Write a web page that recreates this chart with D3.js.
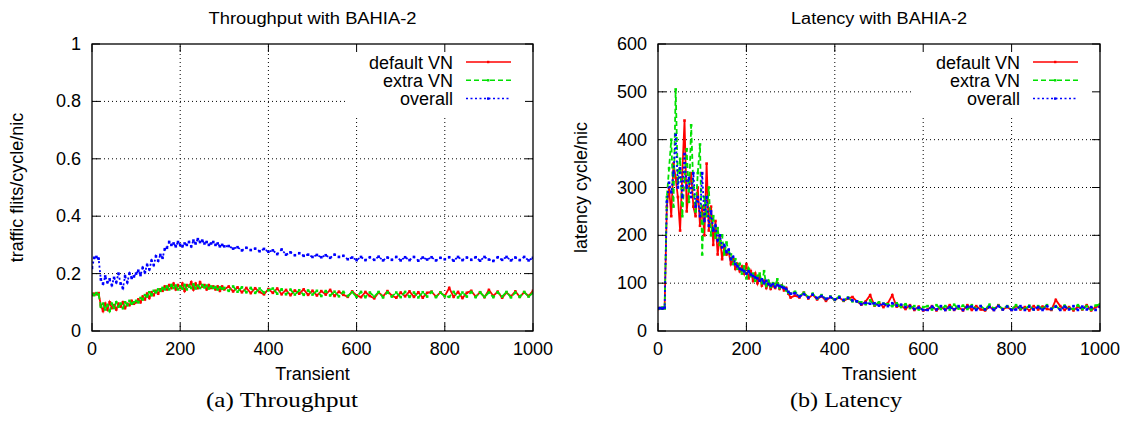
<!DOCTYPE html>
<html>
<head>
<meta charset="utf-8">
<script src="https://cdn.jsdelivr.net/npm/d3@7"></script>
<style>
  body { margin: 0; background: #fff; }
  text { font-family: "Liberation Sans", Arial, sans-serif; }
  text.caption { font-family: "Liberation Serif", "DejaVu Serif", serif; }
</style>
</head>
<body>
<script>
// x values (transient step), dense at the start, every 10 after 300
const transient = [
  0,5,10,15,20,25,30,35,40,45, 50,55,60,65,70,75,80,85,90,95,
  100,105,110,115,120,125,130,135,140,145, 150,155,160,165,170,175,180,185,190,195,
  200,205,210,215,220,225,230,235,240,245, 250,255,260,265,270,275,280,285,290,295,
  300,
  310,320,330,340,350,360,370,380,390,400, 410,420,430,440,450,460,470,480,490,500,
  510,520,530,540,550,560,570,580,590,600, 610,620,630,640,650,660,670,680,690,700,
  710,720,730,740,750,760,770,780,790,800, 810,820,830,840,850,860,870,880,890,900,
  910,920,930,940,950,960,970,980,990,1000
];

const seriesNames = ["default VN", "extra VN", "overall"];
const xTicks = [0, 200, 400, 600, 800, 1000];
const tpTicks = [0, 0.2, 0.4, 0.6, 0.8, 1];
const tpTickLabels = ["0", "0.2", "0.4", "0.6", "0.8", "1"];
const latTicks = [0, 100, 200, 300, 400, 500, 600];

// throughput (flits/cycle/nic)
const tpDefault = [
  0.125,0.13,0.128,0.132,0.09,0.07,0.095,0.075,0.1,0.08,
  0.09,0.075,0.095,0.085,0.1,0.08,0.095,0.09,0.105,0.095,
  0.1,0.11,0.1,0.12,0.11,0.13,0.115,0.135,0.125,0.14,
  0.13,0.145,0.14,0.155,0.145,0.16,0.15,0.165,0.145,0.16,
  0.15,0.165,0.14,0.16,0.155,0.17,0.145,0.165,0.15,0.17,
  0.155,0.16,0.145,0.16,0.15,0.155,0.145,0.155,0.14,0.155,
  0.145,
  0.155,0.138,0.152,0.135,0.15,0.132,0.149,0.136,0.128,0.146,
  0.133,0.148,0.128,0.143,0.125,0.141,0.13,0.145,0.126,0.14,
  0.124,0.139,0.127,0.143,0.122,0.137,0.126,0.119,0.138,0.124,
  0.118,0.136,0.122,0.114,0.134,0.121,0.139,0.123,0.116,0.134,
  0.121,0.138,0.119,0.135,0.116,0.133,0.137,0.12,0.134,0.122,
  0.15,0.119,0.136,0.115,0.133,0.14,0.12,0.135,0.118,0.143,
  0.122,0.137,0.116,0.134,0.121,0.138,0.119,0.135,0.122,0.14
];
const tpExtra = [
  0.13,0.125,0.132,0.127,0.085,0.095,0.075,0.09,0.07,0.095,
  0.08,0.1,0.085,0.095,0.08,0.1,0.09,0.105,0.095,0.1,
  0.105,0.1,0.115,0.11,0.125,0.12,0.135,0.125,0.14,0.135,
  0.145,0.14,0.15,0.145,0.155,0.145,0.16,0.15,0.158,0.145,
  0.155,0.148,0.16,0.145,0.158,0.15,0.162,0.148,0.158,0.15,
  0.16,0.152,0.158,0.148,0.155,0.15,0.153,0.145,0.152,0.147,
  0.15,
  0.14,0.155,0.137,0.152,0.135,0.15,0.133,0.148,0.134,0.142,
  0.148,0.13,0.145,0.128,0.144,0.127,0.142,0.126,0.141,0.127,
  0.14,0.122,0.139,0.124,0.137,0.121,0.136,0.122,0.135,0.119,
  0.136,0.118,0.134,0.12,0.136,0.117,0.135,0.12,0.134,0.118,
  0.136,0.119,0.134,0.117,0.135,0.12,0.136,0.118,0.134,0.121,
  0.119,0.136,0.117,0.134,0.12,0.136,0.118,0.135,0.119,0.134,
  0.118,0.135,0.12,0.136,0.117,0.134,0.119,0.136,0.12,0.133
];
const tpOverall = [
  0.22,0.255,0.258,0.252,0.18,0.165,0.19,0.17,0.18,0.16,
  0.185,0.17,0.2,0.165,0.15,0.19,0.17,0.2,0.185,0.19,
  0.2,0.21,0.195,0.22,0.205,0.23,0.215,0.245,0.23,0.26,
  0.245,0.265,0.255,0.285,0.29,0.31,0.3,0.305,0.295,0.31,
  0.3,0.295,0.305,0.3,0.31,0.295,0.315,0.305,0.32,0.31,
  0.315,0.305,0.31,0.3,0.305,0.31,0.3,0.305,0.295,0.3,
  0.295,
  0.296,0.287,0.292,0.281,0.29,0.282,0.287,0.278,0.286,0.276,
  0.281,0.268,0.284,0.266,0.274,0.264,0.271,0.262,0.266,0.258,
  0.265,0.257,0.264,0.255,0.266,0.258,0.262,0.25,0.256,0.247,
  0.258,0.247,0.257,0.248,0.259,0.246,0.256,0.248,0.258,0.246,
  0.257,0.247,0.258,0.245,0.256,0.249,0.257,0.246,0.255,0.25,
  0.257,0.245,0.258,0.247,0.256,0.248,0.257,0.245,0.258,0.249,
  0.244,0.257,0.248,0.258,0.246,0.256,0.247,0.258,0.246,0.255
];

// latency (cycle/nic)
const latDefault = [
  46,48,47,48,260,300,240,350,320,280,
  210,330,440,250,300,330,260,240,300,220,
  260,200,350,210,260,180,230,160,200,150,
  175,160,165,140,150,130,140,125,135,120,
  140,110,125,105,120,100,115,95,105,90,
  100,88,95,90,100,88,95,85,90,78,
  70,
  74,70,80,68,76,66,73,63,71,65,
  70,63,68,71,62,55,62,75,53,59,
  50,58,75,51,53,46,54,44,51,43,
  45,52,43,50,44,54,44,50,43,54,
  44,52,45,43,51,44,54,45,50,44,
  52,45,50,43,52,45,51,46,44,65,
  52,44,50,43,51,45,54,43,50,52
];
const latExtra = [
  48,47,49,47,280,340,400,260,505,310,
  360,240,320,380,270,430,300,250,330,390,
  160,280,240,300,200,240,195,215,180,200,
  160,185,165,160,140,150,130,140,120,135,
  110,130,115,120,105,115,120,100,125,95,
  105,92,100,95,108,90,95,92,85,80,
  78,
  82,73,80,71,78,68,75,67,72,65,
  72,64,70,62,62,60,56,64,54,60,
  57,56,52,58,50,56,48,52,45,50,
  52,45,54,46,52,45,55,47,53,46,
  54,46,52,45,55,47,53,46,52,45,
  54,47,46,53,45,52,47,54,46,52,
  45,53,47,46,54,46,52,45,53,56
];
const latOverall = [
  47,48,47,49,270,310,290,330,410,300,
  340,280,370,300,320,280,330,260,280,240,
  330,230,280,220,250,210,220,190,200,175,
  180,165,170,150,155,140,135,130,128,125,
  120,125,118,115,112,110,105,108,100,105,
  98,95,98,92,96,94,92,90,88,82,
  78,
  79,72,77,70,76,69,73,67,71,66,
  70,65,69,64,62,56,59,57,58,53,
  57,52,58,53,55,50,52,46,49,44,
  44,51,45,52,44,50,45,52,44,51,
  51,44,52,45,50,44,52,45,51,44,
  45,52,44,51,45,50,44,52,46,51,
  44,51,45,52,44,51,45,50,44,51
];

const colors = ["#ff0000", "#00e000", "#0000ff"];
const dashes = [null, "5,3", "2,2.5"];

const svg = d3.select("body").append("svg")
  .attr("width", 1127).attr("height", 423);

function drawPanel(p, idx)
{
  const x = d3.scaleLinear().domain([0, 1000]).range([p.left, p.right]);
  const y = d3.scaleLinear().domain([0, p.yMax]).range([p.bottom, p.top]);
  const g = svg.append("g");

  // dotted grid
  g.selectAll(".vgrid").data(xTicks.slice(1, -1)).enter().append("line")
    .attr("x1", d => x(d)).attr("x2", d => x(d))
    .attr("y1", p.bottom).attr("y2", p.top)
    .attr("stroke", "#000").attr("stroke-width", 1).attr("stroke-dasharray", "1,3");
  g.selectAll(".hgrid").data(p.yTicks.slice(1, -1)).enter().append("line")
    .attr("x1", p.left).attr("x2", p.right)
    .attr("y1", d => y(d)).attr("y2", d => y(d))
    .attr("stroke", "#000").attr("stroke-width", 1).attr("stroke-dasharray", "1,3");

  // key area is blanked (gnuplot key box)
  g.append("rect")
    .attr("x", x(575)).attr("y", p.top + 1)
    .attr("width", p.right - x(575) - 1).attr("height", 116 - p.top)
    .attr("fill", "#fff");

  const clipId = "clip" + idx;
  svg.append("clipPath").attr("id", clipId).append("rect")
    .attr("x", p.left).attr("y", p.top)
    .attr("width", p.right - p.left).attr("height", p.bottom - p.top);

  const line = d3.line().x((d, i) => x(transient[i])).y(d => y(d));
  const plot = g.append("g").attr("clip-path", "url(#" + clipId + ")");
  p.series.forEach((s, k) => {
    plot.append("path")
      .attr("d", line(s))
      .attr("fill", "none")
      .attr("stroke", colors[k])
      .attr("stroke-width", 1.8)
      .attr("stroke-dasharray", dashes[k]);
    plot.selectAll(".pt" + k).data(s).enter().append("rect")
      .attr("x", (d, i) => x(transient[i]) - 1.3)
      .attr("y", d => y(d) - 1.3)
      .attr("width", 2.6).attr("height", 2.6)
      .attr("fill", colors[k]);
  });

  // border
  g.append("rect")
    .attr("x", p.left).attr("y", p.top)
    .attr("width", p.right - p.left).attr("height", p.bottom - p.top)
    .attr("fill", "none").attr("stroke", "#000").attr("stroke-width", 1.3);

  // inward ticks on all sides
  const tl = 8;
  xTicks.forEach(t => {
    g.append("line").attr("x1", x(t)).attr("x2", x(t)).attr("y1", p.bottom).attr("y2", p.bottom - tl).attr("stroke", "#000");
    g.append("line").attr("x1", x(t)).attr("x2", x(t)).attr("y1", p.top).attr("y2", p.top + tl).attr("stroke", "#000");
  });
  p.yTicks.forEach(t => {
    g.append("line").attr("x1", p.left).attr("x2", p.left + tl).attr("y1", y(t)).attr("y2", y(t)).attr("stroke", "#000");
    g.append("line").attr("x1", p.right).attr("x2", p.right - tl).attr("y1", y(t)).attr("y2", y(t)).attr("stroke", "#000");
  });

  // tick labels
  g.selectAll(".xl").data(xTicks).enter().append("text")
    .attr("x", d => x(d)).attr("y", p.bottom + 24)
    .attr("text-anchor", "middle").attr("font-size", 18)
    .text(d => d);
  g.selectAll(".yl").data(p.yTicks).enter().append("text")
    .attr("x", p.left - 11).attr("y", d => y(d) + 6)
    .attr("text-anchor", "end").attr("font-size", 18)
    .text((d, i) => p.yLabels[i]);

  // titles and labels
  const cx = (p.left + p.right) / 2;
  g.append("text").attr("x", cx).attr("y", 24)
    .attr("text-anchor", "middle").attr("font-size", 16)
    .attr("textLength", p.titleLen).attr("lengthAdjust", "spacingAndGlyphs")
    .text(p.title);
  g.append("text").attr("x", cx).attr("y", 380)
    .attr("text-anchor", "middle").attr("font-size", 18)
    .text("Transient");
  g.append("text")
    .attr("transform", "translate(" + p.ylabX + "," + ((p.top + p.bottom) / 2) + ") rotate(-90)")
    .attr("text-anchor", "middle").attr("font-size", 18)
    .text(p.ylab);
  g.append("text").attr("class", "caption")
    .attr("x", p.capX).attr("y", 407)
    .attr("text-anchor", "middle").attr("font-size", 21)
    .attr("textLength", p.capLen).attr("lengthAdjust", "spacingAndGlyphs")
    .text(p.caption);

  // legend
  seriesNames.forEach((name, k) => {
    const ly = 62 + k * 18.3;
    g.append("text").attr("x", p.right - 80).attr("y", ly + 6.5)
      .attr("text-anchor", "end").attr("font-size", 18).text(name);
    g.append("line")
      .attr("x1", p.right - 67).attr("x2", p.right - 22)
      .attr("y1", ly).attr("y2", ly)
      .attr("stroke", colors[k]).attr("stroke-width", 1.5)
      .attr("stroke-dasharray", dashes[k]);
    g.append("rect").attr("x", p.right - 46).attr("y", ly - 1.2)
      .attr("width", 2.4).attr("height", 2.4).attr("fill", colors[k]);
  });
}

drawPanel({
  left: 92, right: 533, top: 44, bottom: 331, yMax: 1,
  yTicks: tpTicks, yLabels: tpTickLabels,
  title: "Throughput with BAHIA-2", titleLen: 208,
  ylab: "traffic flits/cycle/nic", ylabX: 23,
  caption: "(a) Throughput", capX: 282, capLen: 152,
  series: [tpDefault, tpExtra, tpOverall]
}, 0);

drawPanel({
  left: 658, right: 1100, top: 44, bottom: 331, yMax: 600,
  yTicks: latTicks, yLabels: latTicks.map(String),
  title: "Latency with BAHIA-2", titleLen: 176,
  ylab: "latency cycle/nic", ylabX: 587,
  caption: "(b) Latency", capX: 846, capLen: 112,
  series: [latDefault, latExtra, latOverall]
}, 1);
</script>
</body>
</html>
